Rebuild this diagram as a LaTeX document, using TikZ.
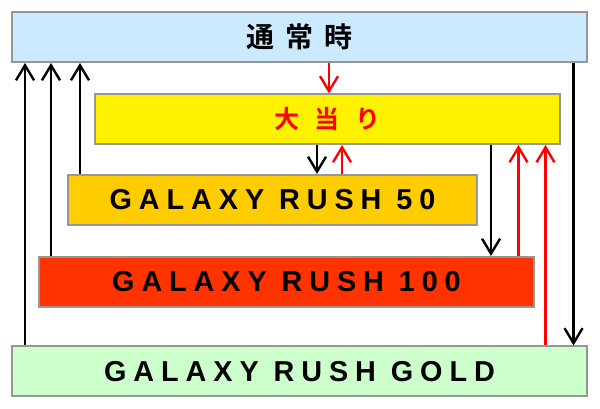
\documentclass[tikz,border=0pt]{standalone}
\usepackage{fontspec}
\usetikzlibrary{arrows.meta}
\newfontfamily\galaxyfont[LetterSpace=24]{Liberation Sans Bold}
\newfontfamily\jpfont[LetterSpace=40]{Noto Sans CJK JP Bold}
\newfontfamily\atarifont[LetterSpace=62]{Noto Sans CJK JP Bold}
\definecolor{tsujoblue}{RGB}{204,234,255}
\definecolor{rushfifty}{RGB}{255,204,0}
\definecolor{rushhundred}{RGB}{255,51,0}
\definecolor{rushgold}{RGB}{204,255,204}
\definecolor{boxgray}{RGB}{150,150,150}
\tikzset{
  modebox/.style={
    draw=boxgray, rectangle, line width=2pt, inner sep=0pt, minimum height=50pt
  },
  rushtext/.style={font=\galaxyfont\fontsize{28.8}{30}\selectfont},
  move/.style={-{Straight Barb[length=15pt,width=18pt]}, line width=2.4pt},
  hit/.style={move, red}
}

\begin{document}
\begin{tikzpicture}[x=1pt,y=1pt]
   \useasboundingbox (0,0) rectangle (600,409);
   \node[modebox, fill=tsujoblue, minimum width=575.5pt, font=\jpfont\fontsize{28}{30}\selectfont] (tsujo) at (299.25,372) {通常時};
   \node[modebox, fill=yellow, minimum width=465pt, minimum height=49.5pt, text=red, font=\atarifont\fontsize{25}{27}\selectfont] (ooatari) at (327,289.75) {大当り};
   \node[modebox, fill=rushfifty, minimum width=409pt, rushtext] (gr50) at (272.5,209) {GALAXY RUSH 50};
   \node[modebox, fill=rushhundred, minimum width=495pt, rushtext] (gr100) at (286.5,127) {GALAXY RUSH 100};
   \node[modebox, fill=rushgold, minimum width=575pt, rushtext] (gold) at (299.5,37.5) {GALAXY RUSH GOLD};

   \draw[move] (gold.north -| 25,0) -- (tsujo.south -| 25,0);
   \draw[move] (gr100.north -| 51,0) -- (tsujo.south -| 51,0);
   \draw[move] (gr50.north -| 80,0) -- (tsujo.south -| 80,0);
   \draw[hit] (tsujo.south -| 329,0) -- (ooatari.north -| 329,0);
   \draw[move] (ooatari.south -| 317,0) -- (gr50.north -| 317,0);
   \draw[hit] (gr50.north -| 342,0) -- (ooatari.south -| 342,0);
   \draw[move] (ooatari.south -| 491,0) -- (gr100.north -| 491,0);
   \draw[hit] (gr100.north -| 518.5,0) -- (ooatari.south -| 518.5,0);
   \draw[hit] (gold.north -| 545.5,0) -- (ooatari.south -| 545.5,0);
   \draw[move] (tsujo.south -| 573.5,0) -- (gold.north -| 573.5,0);
\end{tikzpicture}
\end{document}
